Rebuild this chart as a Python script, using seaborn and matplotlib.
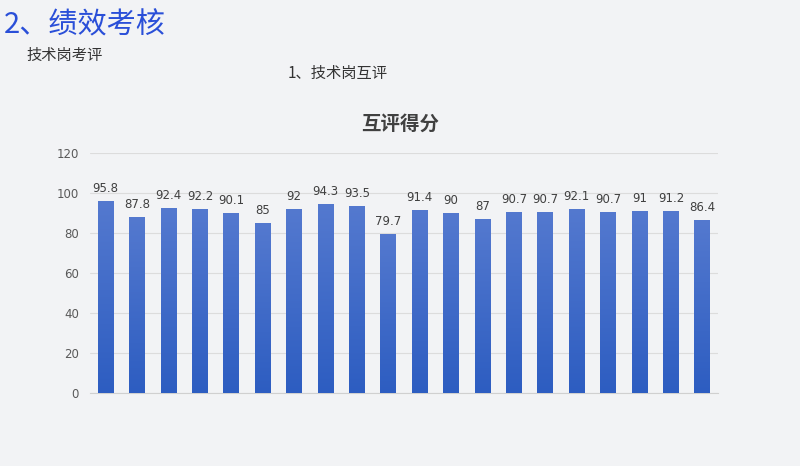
import numpy as np
import pandas as pd
import matplotlib
matplotlib.use('Agg')
import matplotlib.pyplot as plt
import seaborn as sns

# data
people = [f'P{i+1}' for i in range(20)]
scores = [95.8, 87.8, 92.4, 92.2, 90.1, 85, 92, 94.3, 93.5, 79.7,
          91.4, 90, 87, 90.7, 90.7, 92.1, 90.7, 91, 91.2, 86.4]
y_ticks = [0, 20, 40, 60, 80, 100, 120]

sns.set_style("white")
plt.rcParams['font.family'] = ['Noto Sans CJK SC', 'DejaVu Sans']

df = pd.DataFrame({'person': people, 'score': scores})

fig = plt.figure(figsize=(8, 4.66), dpi=100)
fig.patch.set_facecolor('#f2f3f5')
ax = fig.add_axes([0.1125, 0.1567, 0.785, 0.515])
ax.set_facecolor('none')

sns.barplot(data=df, x='person', y='score', color='#4472c4', width=0.5, ax=ax)

# gradient fill for each bar (lighter top, darker bottom)
grad = np.linspace(0, 1, 256).reshape(-1, 1)
cmap = matplotlib.colors.LinearSegmentedColormap.from_list('g', ['#2d5dc1', '#5479cf'])
for p in ax.patches:
    x0, y0 = p.get_x(), p.get_y()
    w, h = p.get_width(), p.get_height()
    p.set_facecolor('none')
    p.set_edgecolor('none')
    im = ax.imshow(grad, cmap=cmap, aspect='auto', origin='lower',
                   extent=[x0, x0 + w, y0, y0 + h], zorder=3)
    im.set_clip_path(p)
    ax.text(x0 + w / 2, h + 3, f'{h:g}', ha='center', va='bottom',
            fontsize=8.5, color='#404040', family=['DejaVu Sans'])

ax.set_xlim(-0.5, len(people) - 0.5)
ax.set_ylim(0, 120)
ax.set_yticks(y_ticks)
ax.set_yticklabels([str(t) for t in y_ticks], fontsize=8.5, color='#595959',
                   family='DejaVu Sans')
ax.tick_params(axis='y', length=0, pad=8)
ax.set_xticks([])
ax.set_xlabel('')
ax.set_ylabel('')
ax.yaxis.grid(True, color='#dcdcdc', linewidth=0.8)
ax.set_axisbelow(True)
for s in ['top', 'right', 'left']:
    ax.spines[s].set_visible(False)
ax.spines['bottom'].set_color('#d0d0d0')

fig.text(0.005, 0.945, '2、绩效考核', fontsize=21, color='#2a4fd8', va='center')
fig.text(0.033, 0.88, '技术岗考评', fontsize=11, color='#333333', va='center')
fig.text(0.36, 0.842, '1、技术岗互评', fontsize=11, color='#333333', va='center')
fig.text(0.5, 0.733, '互评得分', fontsize=14, color='#404040', va='center',
         ha='center', fontweight='bold')

fig.savefig('out.png', dpi=100, facecolor=fig.get_facecolor())
